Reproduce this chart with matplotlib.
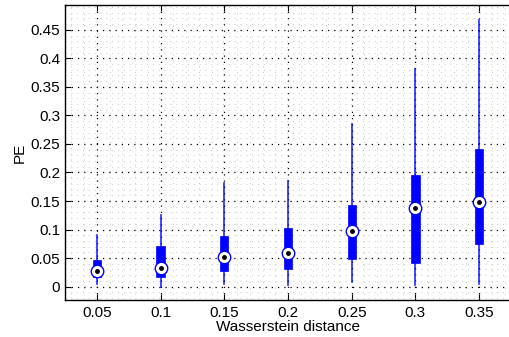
import matplotlib.pyplot as plt
from matplotlib.ticker import MultipleLocator

plt.rcParams['font.family'] = ['Liberation Sans', 'DejaVu Sans']

distances = ['0.05', '0.1', '0.15', '0.2', '0.25', '0.3', '0.35']
whislo = [0.005, 0.0, 0.004, 0.002, 0.008, 0.002, 0.004]
q1 = [0.016, 0.016, 0.027, 0.031, 0.049, 0.041, 0.075]
med = [0.028, 0.033, 0.052, 0.058, 0.098, 0.138, 0.148]
q3 = [0.047, 0.071, 0.089, 0.103, 0.143, 0.195, 0.241]
whishi = [0.090, 0.126, 0.181, 0.185, 0.285, 0.381, 0.467]

blue = '#0000ff'

fig = plt.figure(figsize=(5.1, 3.37), dpi=100)
ax = fig.add_axes([65 / 510, 1 - 300 / 337, 446 / 510, 295 / 337])

stats = []
for i in range(len(distances)):
    stats.append(dict(whislo=whislo[i], q1=q1[i], med=med[i], q3=q3[i],
                      whishi=whishi[i], fliers=[]))

pos = list(range(1, len(distances) + 1))
ax.bxp(stats, positions=pos, widths=0.13, patch_artist=True, showcaps=False,
       boxprops=dict(facecolor=blue, edgecolor=blue, linewidth=0.5),
       whiskerprops=dict(color=blue, linewidth=1.2, alpha=0.85),
       medianprops=dict(linewidth=0), zorder=3)

# median markers: white circle with blue ring and a black dot
ax.plot(pos, med, 'o', ms=9, mfc='white', mec=blue, mew=1.0, zorder=4)
ax.plot(pos, med, 'o', ms=2.5, color='black', zorder=5)

ax.set_xlim(0.5, 7.5)
ax.set_ylim(-0.0235, 0.4935)
ax.set_xticks(pos)
ax.set_xticklabels(distances)
ax.set_yticks([0, 0.05, 0.1, 0.15, 0.2, 0.25, 0.3, 0.35, 0.4, 0.45])
ax.set_yticklabels(['0', '0.05', '0.1', '0.15', '0.2', '0.25', '0.3',
                    '0.35', '0.4', '0.45'])
ax.xaxis.set_minor_locator(MultipleLocator(0.2))
ax.yaxis.set_minor_locator(MultipleLocator(0.01))

ax.grid(which='major', linestyle=(0, (1, 4)), color='black', linewidth=0.9)
ax.grid(which='minor', linestyle=(0, (1, 5)), color='#c8c8c8', linewidth=0.7)
ax.set_axisbelow(True)

ax.tick_params(which='both', direction='in', top=True, labelsize=11)
ax.tick_params(which='major', length=4)
ax.tick_params(which='minor', length=0)
ax.tick_params(axis='x', pad=4)
for s in ax.spines.values():
    s.set_linewidth(1.0)
ax.spines['right'].set_visible(False)

ax.set_xlabel('Wasserstein distance', fontsize=11, labelpad=0)
ax.set_ylabel('PE', fontsize=11, labelpad=3)

fig.savefig('out.png', dpi=100)
